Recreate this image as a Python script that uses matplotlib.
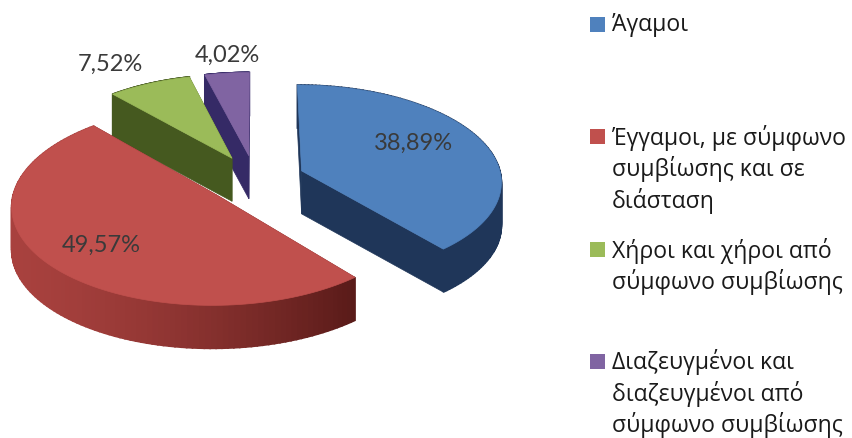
import numpy as np
import matplotlib
matplotlib.use("Agg")
import matplotlib.pyplot as plt
from matplotlib.patches import Polygon, Rectangle

# data
labels = ["38,89%", "49,57%", "7,52%", "4,02%"]
values = [38.89, 49.57, 7.52, 4.02]
legend_names = ["Άγαμοι",
                "Έγγαμοι, με σύμφωνο\nσυμβίωσης και σε\nδιάσταση",
                "Χήροι και χήροι από\nσύμφωνο συμβίωσης",
                "Διαζευγμένοι και\nδιαζευγμένοι από\nσύμφωνο συμβίωσης"]
top_colors = ["#4F81BD", "#C0504D", "#9BBB59", "#8064A2"]
wall_colors = ["#1F3659", "#6E2422", "#45591F", "#352A66"]
arc_left = ["#1F3659", "#A8413E", "#45591F", "#352A66"]
arc_right = ["#1F3659", "#5A1B19", "#45591F", "#352A66"]
label_xy = [(413, 143), (101, 245), (110, 64), (227, 55)]
legend_y = [25.5, 137.5, 250.5, 362]

# pie geometry, in pixels
cx, cy = 255, 180
a, b = 200, 96
persp = 0.10
explode = 0.25
depth = 43


def project(u, v, drop=0):
    w = 1 + persp * v
    return np.column_stack((cx + a * u / w, cy - b * v / w + drop))


fig = plt.figure(figsize=(8.53, 4.39), dpi=100)
ax = fig.add_axes([0, 0, 1, 1])
ax.set_xlim(0, 853)
ax.set_ylim(439, 0)
ax.axis("off")

fractions = np.array(values) / sum(values)
ends = np.cumsum(fractions) * 2 * np.pi
starts = ends - fractions * 2 * np.pi

# back slices first
for i in [3, 2, 0, 1]:
    mid = (starts[i] + ends[i]) / 2
    ox, oy = explode * np.sin(mid), explode * np.cos(mid)
    t = np.linspace(starts[i], ends[i], 120)
    u = ox + np.sin(t)
    v = oy + np.cos(t)
    apex = project(np.array([ox]), np.array([oy]))
    rim = project(u, v)
    rim_low = rim + [0, depth]
    apex_low = apex + [0, depth]

    for edge in (rim[0], rim[-1]):
        wall = [apex[0], edge, edge + [0, depth], apex_low[0]]
        ax.add_patch(Polygon(wall, fc=wall_colors[i], ec=wall_colors[i], lw=0.5))

    # rim side, darkening from left to right
    c0 = np.array(matplotlib.colors.to_rgb(arc_left[i]))
    c1 = np.array(matplotlib.colors.to_rgb(arc_right[i]))
    lo, hi = rim[:, 0].min(), rim[:, 0].max()
    for k in range(len(t) - 1):
        f = (rim[k, 0] - lo) / (hi - lo)
        col = c0 + (c1 - c0) * f ** 1.5
        quad = [rim[k], rim[k + 1], rim_low[k + 1], rim_low[k]]
        ax.add_patch(Polygon(quad, fc=col, ec=col, lw=1.2))

    top = np.vstack((apex, rim))
    ax.add_patch(Polygon(top, fc=top_colors[i], ec=top_colors[i], lw=0.5))

for text, (x, y) in zip(labels, label_xy):
    ax.text(x, y, text, ha="center", va="center", fontsize=17, family="Lato",
            color="#3a3a3a")

for name, col, y in zip(legend_names, top_colors, legend_y):
    ax.add_patch(Rectangle((590, y - 7.5), 15, 15, fc=col, ec="none"))
    ax.text(612, y - 12.5, name, ha="left", va="top", fontsize=16.6, family="Open Sans",
            color="#1a1a1a", linespacing=1.27)

fig.savefig("out.png", dpi=100)
